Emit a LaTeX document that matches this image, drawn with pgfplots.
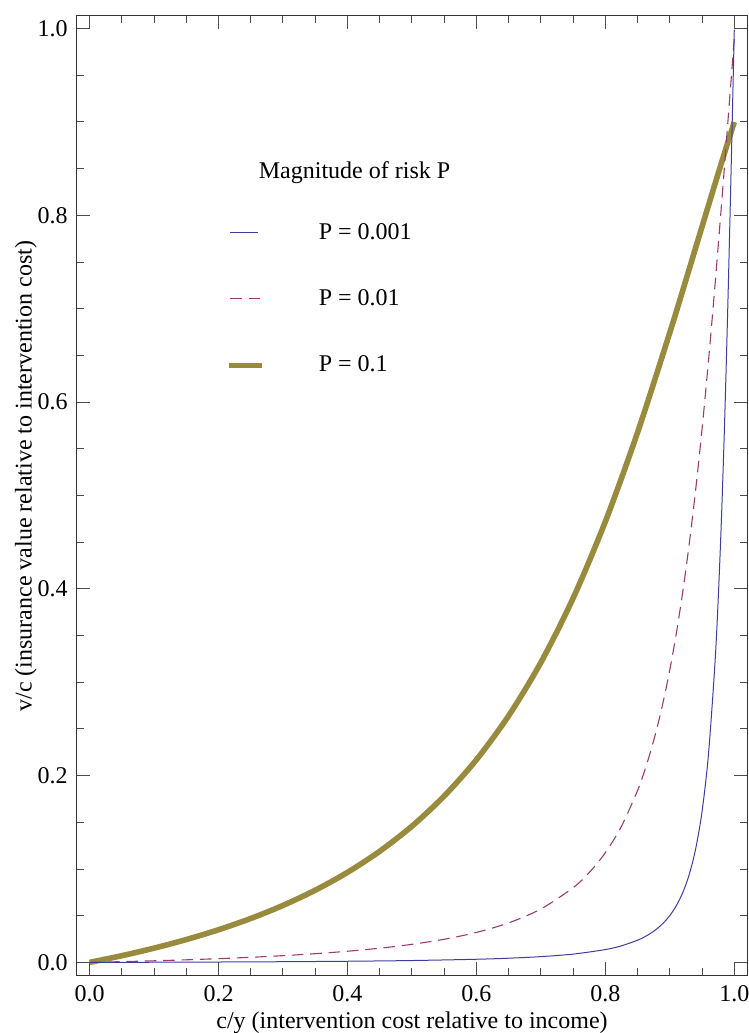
\documentclass[border=0pt]{standalone}
\usepackage{fontspec}
\setmainfont{Liberation Serif}
\usepackage{pgfplots}
\pgfplotsset{compat=1.18}

\definecolor{mmablue}{rgb}{0.24,0.24,0.6}
\definecolor{mmapurple}{rgb}{0.6,0.24,0.442}
\definecolor{mmagold}{rgb}{0.6,0.547,0.24}

\begin{document}
\begin{tikzpicture}
\begin{axis}[
    scale only axis,
    width=335pt, height=479.5pt,
    xmin=-0.0195, xmax=1.0197,
    ymin=-0.0135, ymax=1.0135,
    xtick={0,0.2,0.4,0.6,0.8,1},
    ytick={0,0.2,0.4,0.6,0.8,1},
    xticklabels={0.0,0.2,0.4,0.6,0.8,1.0},
    yticklabels={0.0,0.2,0.4,0.6,0.8,1.0},
    minor tick num=3,
    tick align=inside,
    major tick length=6.3pt,
    minor tick length=3.5pt,
    axis line style={black!80, line width=0.5pt},
    every tick/.style={black!70, line width=0.5pt},
    tick label style={font=\fontsize{12}{14}\selectfont, inner sep=0pt},
    xticklabel style={anchor=north, yshift=-5pt},
    yticklabel style={anchor=east, xshift=-4.5pt},
    label style={font=\fontsize{12}{14}\selectfont, inner sep=0pt},
    xlabel={c/y (intervention cost relative to income)},
    ylabel={v/c (insurance value relative to intervention cost)},
    xlabel style={at={(axis description cs:0.5,0)}, anchor=base, yshift=-26.5pt},
    ylabel style={at={([xshift=-22.7pt]axis description cs:0,0.52)}, anchor=base},
]

% P = 0.1
\addplot[mmagold, line width=2.8pt, smooth] coordinates {
    (0,0) (0.05,0.00716) (0.1,0.01526) (0.15,0.02445) (0.2,0.03495)
    (0.25,0.04703) (0.3,0.06101) (0.35,0.07729) (0.4,0.09640) (0.45,0.11898)
    (0.5,0.14588) (0.55,0.17814) (0.6,0.21704) (0.65,0.26414) (0.7,0.32121)
    (0.75,0.39006) (0.8,0.47209) (0.85,0.56757) (0.9,0.67457) (0.925,0.73093)
    (0.95,0.78804) (0.975,0.84478) (0.99,0.87817) (1,0.9)
};

% P = 0.01
\addplot[mmapurple, line width=0.55pt, dash pattern=on 5.8pt off 3.4pt, smooth] coordinates {
    (0,0) (0.05,0.00080) (0.1,0.00171) (0.15,0.00277) (0.2,0.00400)
    (0.25,0.00547) (0.3,0.00721) (0.35,0.00933) (0.4,0.01193) (0.45,0.01519)
    (0.5,0.01934) (0.55,0.02478) (0.6,0.03210) (0.65,0.04231) (0.7,0.05717)
    (0.75,0.07999) (0.775,0.09627) (0.8,0.11747) (0.825,0.14572) (0.85,0.18418)
    (0.86,0.20344) (0.87,0.22549) (0.88,0.25080) (0.89,0.27992)
    (0.9,0.31347) (0.91,0.35213) (0.92,0.39661) (0.93,0.44763) (0.94,0.50577)
    (0.95,0.57141) (0.96,0.64453) (0.97,0.72457) (0.98,0.81025) (0.985,0.85461)
    (0.99,0.89959) (0.995,0.94484) (0.998,0.97197) (1,0.99)
};

% P = 0.001
\addplot[mmablue, line width=0.5pt, smooth] coordinates {
    (0,0) (0.1,0.00017) (0.2,0.00041) (0.3,0.00073) (0.4,0.00122)
    (0.5,0.00199) (0.6,0.00336) (0.65,0.00448) (0.7,0.00617) (0.75,0.00889)
    (0.8,0.01374) (0.825,0.01774) (0.85,0.02375) (0.86,0.02703) (0.87,0.03104)
    (0.88,0.03600) (0.89,0.04224) (0.9,0.05023) (0.91,0.06067) (0.92,0.07467)
    (0.93,0.09395) (0.94,0.12134) (0.95,0.16168) (0.96,0.22327) (0.97,0.32023)
    (0.975,0.38844) (0.98,0.47390) (0.985,0.57909) (0.99,0.70454) (0.995,0.84707)
    (0.998,0.93776) (0.999,0.96836) (1,0.999)
};

% legend, drawn inside the frame as in the original
\node[anchor=base west, inner sep=0pt, font=\fontsize{12}{14}\selectfont]
    at (axis cs:0.262,0.8394) {Magnitude of risk P};
\draw[mmablue, line width=0.5pt] (axis cs:0.218,0.7816) -- (axis cs:0.2616,0.7816);
\draw[mmapurple, line width=0.55pt, dash pattern=on 5.8pt off 3.4pt]
    (axis cs:0.218,0.711) -- (axis cs:0.2645,0.711);
\draw[mmagold, line width=2.8pt] (axis cs:0.2166,0.639) -- (axis cs:0.2677,0.639);
\node[anchor=base west, inner sep=0pt, font=\fontsize{12}{14}\selectfont]
    at (axis cs:0.355,0.7741) {P = 0.001};
\node[anchor=base west, inner sep=0pt, font=\fontsize{12}{14}\selectfont]
    at (axis cs:0.355,0.7034) {P = 0.01};
\node[anchor=base west, inner sep=0pt, font=\fontsize{12}{14}\selectfont]
    at (axis cs:0.355,0.6328) {P = 0.1};

\coordinate (sw) at (rel axis cs:0,0);
\coordinate (ne) at (rel axis cs:1,1);
\end{axis}
\pgfresetboundingbox
\path[use as bounding box] ([xshift=-38.5pt,yshift=-29pt]sw) rectangle ([xshift=1pt,yshift=8pt]ne);
\end{tikzpicture}
\end{document}
